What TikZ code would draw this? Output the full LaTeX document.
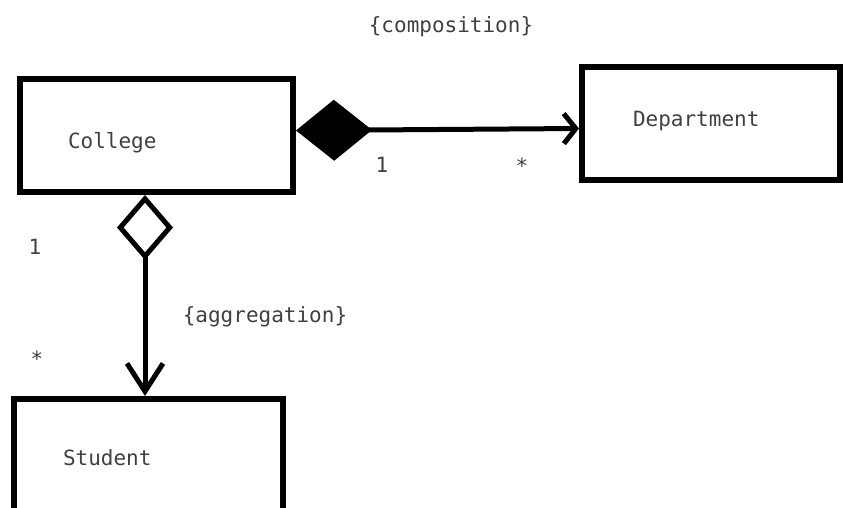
\documentclass[tikz,border=0pt]{standalone}
\usepackage{fontspec}
\setmonofont{DejaVu Sans Mono}
\usetikzlibrary{arrows.meta}
\definecolor{txtgray}{HTML}{404040}
\newcommand\umlfont{\ttfamily\fontsize{21}{25}\selectfont}

\begin{document}
\begin{tikzpicture}[x=1pt, y=-1pt,
    cls/.style={draw, line width=6pt, align=left, inner ysep=0pt, text=txtgray, font=\umlfont},
    lbl/.style={text=txtgray, font=\umlfont, inner sep=0pt},
    comp/.style={line width=5pt, arrows={Diamond[length=76pt,width=61pt]-Straight Barb[length=12pt,width=30pt]}},
    agg/.style={line width=5pt, arrows={Diamond[open,length=65pt,width=56pt]-Straight Barb[length=28pt,width=36pt]}}]
    \useasboundingbox (0,0) rectangle (843,507);
    \clip (0,0) rectangle (843,507);

    % Draw the classes
    \node[cls, minimum width=273pt, minimum height=113pt, text width=177pt, inner xsep=48pt,
          text height=30pt, text depth=5pt] (college) at (156.5,135.5) {College};
    \node[cls, minimum width=258pt, minimum height=113pt, text width=156pt, inner xsep=51pt,
          text height=10pt, text depth=5pt] (dept) at (711,123.5) {Department};
    \node[cls, minimum width=269pt, minimum height=118pt, text width=171pt, inner xsep=49pt] (student) at (148.5,458) {Student};

    % Draw the relations
    \draw[comp] ([yshift=5pt]college.east) -- ([yshift=-5pt]dept.west);
    \draw[agg] ([xshift=-11.5pt]college.south) -- ([xshift=-3.5pt]student.north);

    % Labels
    \node[lbl] (comptxt) at (451,27) {\{composition\}};
    \node[lbl] (aggtxt) at (265,317) {\{aggregation\}};
    \node[lbl] (compone) at (382,165) {1};
    \node[lbl] (compmany) at (522,166) {*};
    \node[lbl] (aggone) at (35,247) {1};
    \node[lbl] (aggmany) at (37,359) {*};
\end{tikzpicture}
\end{document}
